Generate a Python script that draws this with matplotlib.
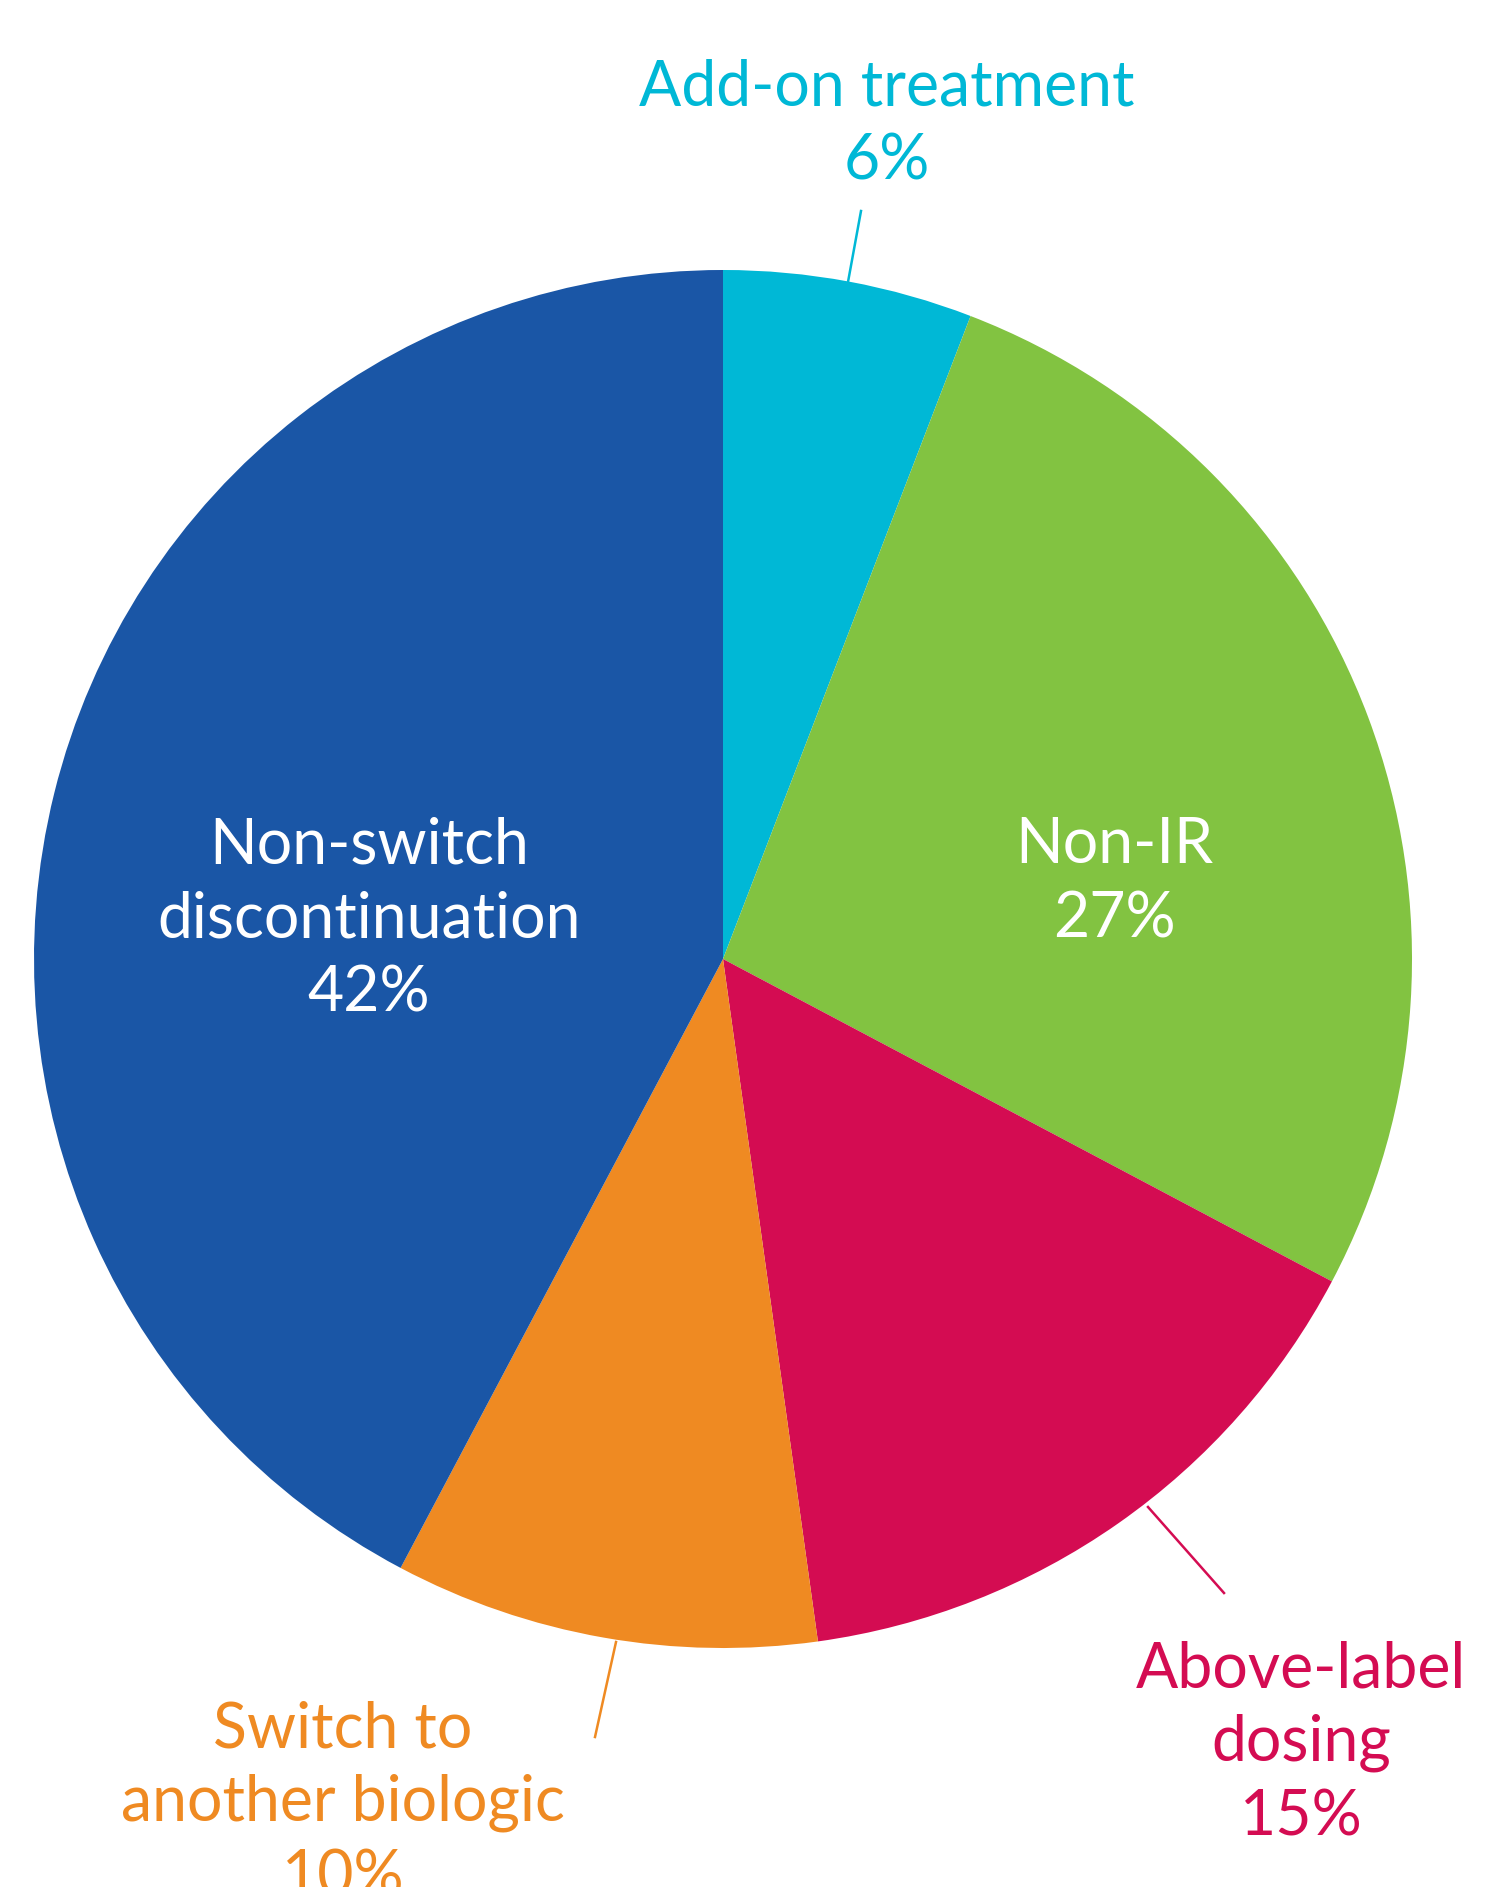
import matplotlib
matplotlib.use('Agg')
import matplotlib.pyplot as plt

plt.rcParams['font.family'] = ['Lato', 'DejaVu Sans']

# slices, clockwise from 12 o'clock
categories = ['Add-on treatment', 'Non-IR', 'Above-label\ndosing',
              'Switch to\nanother biologic', 'Non-switch\ndiscontinuation']
pct_labels = ['6%', '27%', '15%', '10%', '42%']
# wedge sizes (labels are the rounded values)
shares = [5.85, 26.9, 15.05, 9.95, 42.25]
colors = ['#00B8D6', '#82C341', '#D40C52', '#EF8A22', '#1A56A6']
label_colors = ['#00B8D6', 'white', '#D40C52', '#EF8A22', 'white']

# layout in pixel coordinates (y down)
W, H = 1487, 1887
center = (723, 959)
radius = 689
first_baseline = [106, 863, 1687, 1747, 864]
label_x = [887, 1114, 1301, 343, 369]
line_step = 74
leaders = [((861, 211), (848, 282)), None, ((1148, 1507), (1224, 1593)),
           ((616, 1642), (595, 1737)), None]

fig = plt.figure(figsize=(W / 100, H / 100), dpi=100)
ax = fig.add_axes([0, 0, 1, 1])
ax.pie(shares, colors=colors, startangle=-90, counterclock=True,
       center=center, radius=radius, wedgeprops=dict(linewidth=0))
ax.set_xlim(0, W)
ax.set_ylim(H, 0)
ax.set_aspect('equal')
ax.axis('off')

for i, cat in enumerate(categories):
    lines = cat.split('\n') + [pct_labels[i]]
    for j, line in enumerate(lines):
        ax.text(label_x[i], first_baseline[i] + j * line_step, line,
                ha='center', va='baseline', fontsize=45,
                color=label_colors[i])
    if leaders[i] is not None:
        (x0, y0), (x1, y1) = leaders[i]
        ax.plot([x0, x1], [y0, y1], color=colors[i], lw=1.8)

fig.savefig('out.png', dpi=100, facecolor='white')
